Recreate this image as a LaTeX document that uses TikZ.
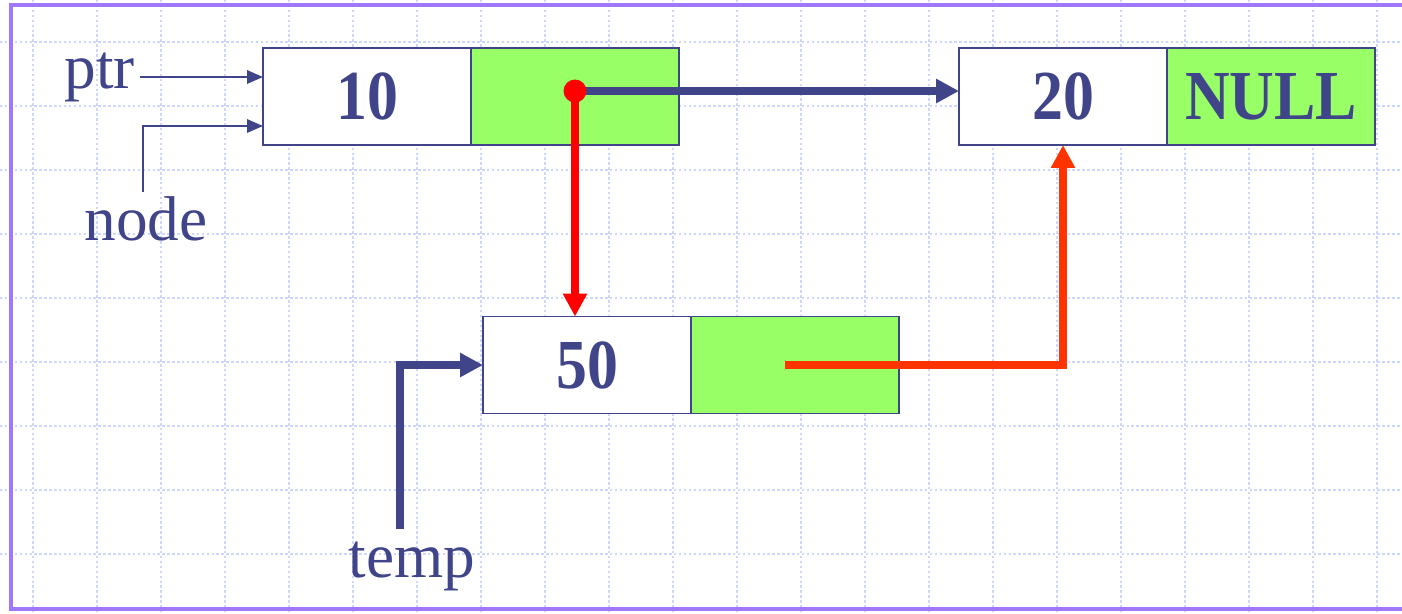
\documentclass[tikz,border=0pt]{standalone}
\usepackage{fontspec}
\setmainfont{Liberation Serif}
\newfontfamily\cellfont[FakeStretch=0.88]{Liberation Serif}
\usetikzlibrary{arrows.meta,positioning,calc}
\definecolor{lnkblue}{RGB}{64,68,137}
\definecolor{cellgreen}{RGB}{153,255,102}
\definecolor{ptrred}{RGB}{255,0,0}
\definecolor{newred}{RGB}{255,51,0}
\definecolor{gridblue}{RGB}{204,214,255}
\definecolor{framepurple}{RGB}{160,120,255}
\tikzset{
  datacell/.style={draw=lnkblue, line width=1pt, fill=white, outer sep=0pt, inner sep=0pt,
                   minimum width=4.16cm, minimum height=1.94cm,
                   font=\cellfont\fontsize{40}{42}\selectfont\bfseries, text=lnkblue},
  linkcell/.style={datacell, fill=cellgreen},
  lbl/.style={font=\fontsize{36}{40}\selectfont, text=lnkblue, inner sep=0pt},
  dotnode/.style={circle, fill=ptrred, inner sep=0pt, minimum size=0.46cm},
  thinarr/.style={-{Triangle[length=9pt, width=7.5pt]}, lnkblue, line width=1.2pt},
  bigarr/.style={-{Triangle[length=13pt, width=13pt]}, lnkblue, line width=4.2pt},
  redarr/.style={-{Triangle[length=13pt, width=13pt]}, ptrred, line width=4.6pt},
  orarr/.style={-{Triangle[length=13pt, width=13pt]}, newred, line width=4.2pt},
  gridln/.style={gridblue, line width=1pt, dash pattern=on 1.4pt off 1.4pt},
}

\begin{document}
\begin{tikzpicture}[x=0.02cm, y=-0.02cm]
  \useasboundingbox (0,0) rectangle (1402,613);
  \clip (0,0) rectangle (1402,613);
  % background grid and frame
  \foreach \gx in {33,97,...,1402} \draw[gridln] (\gx,0) -- (\gx,613);
  \foreach \gy in {42,106,...,613} \draw[gridln] (0,\gy) -- (1402,\gy);
  \draw[framepurple, line width=1.8pt] (11,5) rectangle (1430,609);

  % list nodes
  \node[datacell] (data10) at (367,96.5) {10};
  \node[linkcell, right=0pt of data10] (link10) {};
  \node[datacell] (data20) at (1063,96.5) {20};
  \node[linkcell, right=0pt of data20] (link20) {NULL};
  \node[datacell] (data50) at (587,365) {50};
  \node[linkcell, right=0pt of data50] (link50) {};

  % pointer names
  \node[lbl, anchor=east] (ptr) at (135,77) {ptr};
  \node[lbl, anchor=base] (nodelbl) at (146,240) {node};
  \node[lbl, anchor=base] (temp) at (412,577) {temp};

  \draw[thinarr, shorten <=3pt] (ptr.east) -- (ptr.east -| data10.west);
  \draw[thinarr, shorten <=2pt] ([xshift=-1.7pt]nodelbl.north) |- ($(data10.west)+(0,29.5)$);
  \draw[bigarr, shorten <=7pt] ([xshift=-6.8pt]temp.north) |- (data50.west);

  % links
  \coordinate (oldlink) at (575,91);
  \coordinate (newlink) at (785,365);
  \draw[bigarr] (oldlink) -- (oldlink -| data20.west);
  \draw[redarr] (oldlink) -- (oldlink |- data50.north);
  \draw[orarr] (newlink) -| (data20.south);
  \node[dotnode] (linkdot) at (oldlink) {};
\end{tikzpicture}
\end{document}
